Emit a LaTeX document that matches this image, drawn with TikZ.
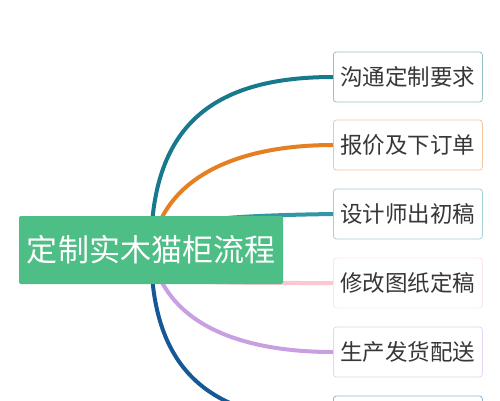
\documentclass[tikz,border=0pt]{standalone}
\usepackage{fontspec}
\usetikzlibrary{backgrounds}
\newfontfamily\cjk{Noto Sans CJK SC}
\definecolor{cA}{RGB}{24,120,140}
\definecolor{cB}{RGB}{230,126,34}
\definecolor{cC}{RGB}{50,150,165}
\definecolor{cD}{RGB}{250,200,206}
\definecolor{cE}{RGB}{200,160,225}
\definecolor{cF}{RGB}{22,88,150}
\definecolor{rootgreen}{RGB}{77,190,134}
\definecolor{txt}{RGB}{55,55,55}
\tikzset{
  branch/.style={line width=4pt},
  leaf/.style={draw=#1!45, line width=0.8pt, fill=white, rounded corners=3pt,
    minimum width=149pt, minimum height=50pt, inner sep=0pt,
    font=\cjk\fontsize{22.5}{24}\selectfont, text=txt, anchor=west},
  rootbox/.style={fill=rootgreen, rounded corners=2pt, minimum width=264pt,
    minimum height=68pt, inner sep=0pt, font=\cjk\fontsize{31}{34}\selectfont, text=white}
}
\begin{document}
\begin{tikzpicture}[x=1pt,y=-1pt]
\useasboundingbox (0,0) rectangle (500,400);
\clip (0,0) rectangle (500,400);
\node[leaf=cA] (n1) at (333,77) {沟通定制要求};
\node[leaf=cB] (n2) at (333,145) {报价及下订单};
\node[leaf=cC] (n3) at (333,214) {设计师出初稿};
\node[leaf=cD] (n4) at (333,283) {修改图纸定稿};
\node[leaf=cE] (n5) at (333,352) {生产发货配送};
\node[leaf=cF] (n6) at (333,421) {};
\node[rootbox] (root) at (151,250) {定制实木猫柜流程};
\begin{scope}[on background layer]
\fill[white] (0,0) rectangle (500,400);
\draw[branch,cA] (root.center) to[out=90,in=180,looseness=1.25] (n1.west);
\draw[branch,cB] (root.center) to[out=80,in=180,looseness=1.0] (n2.west);
\draw[branch,cC] (root.center) .. controls (151,222) and (200,216) .. (n3.west);
\draw[branch,cD] (root.center) .. controls (151,283) and (151,283) .. (n4.west);
\draw[branch,cE] (root.center) to[out=-80,in=180,looseness=1.0] (n5.west);
\draw[branch,cF] (root.center) to[out=-90,in=180,looseness=1.25] (n6.west);
\end{scope}
\end{tikzpicture}
\end{document}
